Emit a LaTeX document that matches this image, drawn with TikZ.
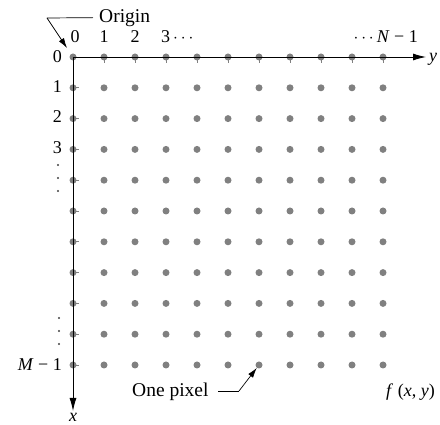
\documentclass[tikz,border=0pt]{standalone}
\usepackage{fontspec}
\setmainfont{Liberation Serif}
\usetikzlibrary{arrows.meta}
\begin{document}
\begin{tikzpicture}[x=1pt,y=-1pt,
  pix/.style={circle,fill=pixgray,inner sep=0pt,minimum size=7pt},
  axis/.style={line width=0.9pt,-{Latex[length=13pt,width=7pt]}},
  lead/.style={line width=0.7pt},
  leadarrow/.style={line width=0.7pt,-{Latex[length=10pt,width=6pt]}},
  tick/.style={line width=0.8pt,draw=pixgray},
  lbl/.style={inner sep=0pt,font=\fontsize{18}{20}\selectfont},
  txt/.style={inner sep=0pt,font=\fontsize{19.5}{22}\selectfont},
  vdot/.style={circle,fill=black!75,inner sep=0pt,minimum size=2.2pt}]
\definecolor{pixgray}{RGB}{128,128,128}
\useasboundingbox (0,0) rectangle (440,425);
% pixels
\foreach \i in {0,...,10}{
  \foreach \j in {0,...,10}{
    \node[pix] (d-\i-\j) at ({73+31*\i},{57+30.8*\j}) {};
  }
}
% ticks on axis pixels
\foreach \i in {1,...,10}{ \draw[tick] (d-\i-0.center) -- ++(0,6); }
\foreach \j in {1,...,10}{ \draw[tick] (d-0-\j.center) -- ++(6,0); }
% axes
\coordinate (yend) at (426,57);
\coordinate (xend) at (73,411);
\draw[axis] (d-0-0.center) -- (yend);
\draw[axis] (d-0-0.center) -- (xend);
\node[lbl,anchor=base west] (ylab) at (429,62) {\textit{y}};
\node[lbl,anchor=base] (xlab) at (73,422) {\textit{x}};
% column labels
\node[lbl,anchor=base] (c0) at (75,43) {0};
\node[lbl,anchor=base] (c1) at (104,43) {1};
\node[lbl,anchor=base] (c2) at (135,43) {2};
\node[lbl,anchor=base west] (c3) at (161,43) {3\,$\cdots$};
\node[lbl,anchor=base east] (cN) at (418,43) {$\cdots$\,\textit{N} − 1};
% row labels
\node[lbl,anchor=base east] (r0) at (62,63) {0};
\node[lbl,anchor=base east] (r1) at (62,93) {1};
\node[lbl,anchor=base east] (r2) at (62,123) {2};
\node[lbl,anchor=base east] (r3) at (62,154) {3};
\node[vdot] (v1) at (58,165) {};
\node[vdot] (v2) at (58,178) {};
\node[vdot] (v3) at (58,191) {};
\node[vdot] (v4) at (59,318) {};
\node[vdot] (v5) at (59,331) {};
\node[vdot] (v6) at (59,344) {};
\node[lbl,anchor=base east] (rM) at (62,371) {\textit{M} − 1};
% origin label
\node[txt,anchor=base west] (origin) at (99,23) {Origin};
\coordinate (ob) at (47,18);
\draw[lead] (origin.west) ++(-6,-1) coordinate (oa) -- (ob);
\draw[leadarrow] (ob) -- (67,48);
% one pixel label
\node[txt,anchor=base west] (onepix) at (132,397) {One pixel};
\coordinate (pa) at (218,391);
\coordinate (pb) at (239,391);
\draw[lead] (pa) -- (pb);
\draw[leadarrow] (pb) -- (d-6-10);
% f(x,y)
\node[lbl,anchor=base west] (fxy) at (386,397) {\textit{f} (\textit{x}, \textit{y})};
\end{tikzpicture}
\end{document}
